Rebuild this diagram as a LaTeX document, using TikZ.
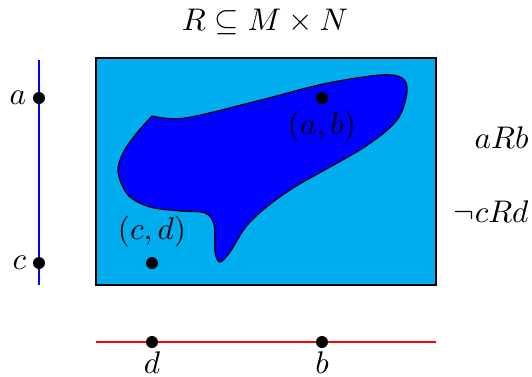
\documentclass[tikz,border=0pt]{standalone}
\usepackage{tikz}
\definecolor{boxcyan}{HTML}{00AEEF}
\begin{document}
\begin{tikzpicture}[x=0.35pt,y=-0.35pt,
  every node/.style={font=\fontsize{11.2}{13}\selectfont},
  dot/.style={circle,fill=black,inner sep=0pt,minimum size=4.2pt},
  lbl/.style={inner sep=1pt}]
\useasboundingbox (0,0) rectangle (532,377);
% box
\draw[fill=boxcyan,line width=0.5pt] (96,58) rectangle (436,285);
% blob
\draw[fill=blue,line width=0.4pt] plot[smooth,tension=0.55] coordinates {
 (152,116) (185,118) (257,101) (323,84) (380,75) (402,78) (407,92) (397,120)
 (363,148) (290,190) (250,222) (230,252) (220,262) (215,252) (214,225)
 (205,213) (180,211) (150,207) (128,195) (118,172) (123,153) (136,134) (152,116)} -- cycle;
% left axis
\coordinate (mtop) at (39,60);
\coordinate (mbot) at (39,285);
\draw[blue,line width=0.6pt] (mtop) -- (mbot);
\node[dot] (a) at (39,98) {};
\node[dot] (c) at (39,263) {};
\node[lbl,anchor=east] (la) at ([xshift=-1pt]a.west) {$a$};
\node[lbl,anchor=east] (lc) at ([xshift=-1pt]c.west) {$c$};
% bottom axis
\coordinate (nl) at (96,342);
\coordinate (nr) at (436,342);
\draw[red,line width=0.6pt] (nl) -- (nr);
\node[dot] (d) at (152,342) {};
\node[dot] (b) at (322,342) {};
\node[lbl,anchor=north] (ld) at (d.south) {$d$};
\node[lbl,anchor=north] (lb) at (b.south) {$b$};
% points in relation
\node[dot] (ab) at (322,98) {};
\node[dot] (cd) at (152,263) {};
\node[lbl,anchor=north] (lab) at ([yshift=-1pt]ab.south) {$(a,b)$};
\node[lbl,anchor=south] (lcd) at ([yshift=2pt]cd.north) {$(c,d)$};
% right labels
\node[lbl,anchor=east] (arb) at (532,138) {$aRb$};
\node[lbl,anchor=east] (ncrd) at (532,212) {$\neg cRd$};
% title
\node (title) at (265,22) {$R\subseteq M\times N$};
\end{tikzpicture}
\end{document}
